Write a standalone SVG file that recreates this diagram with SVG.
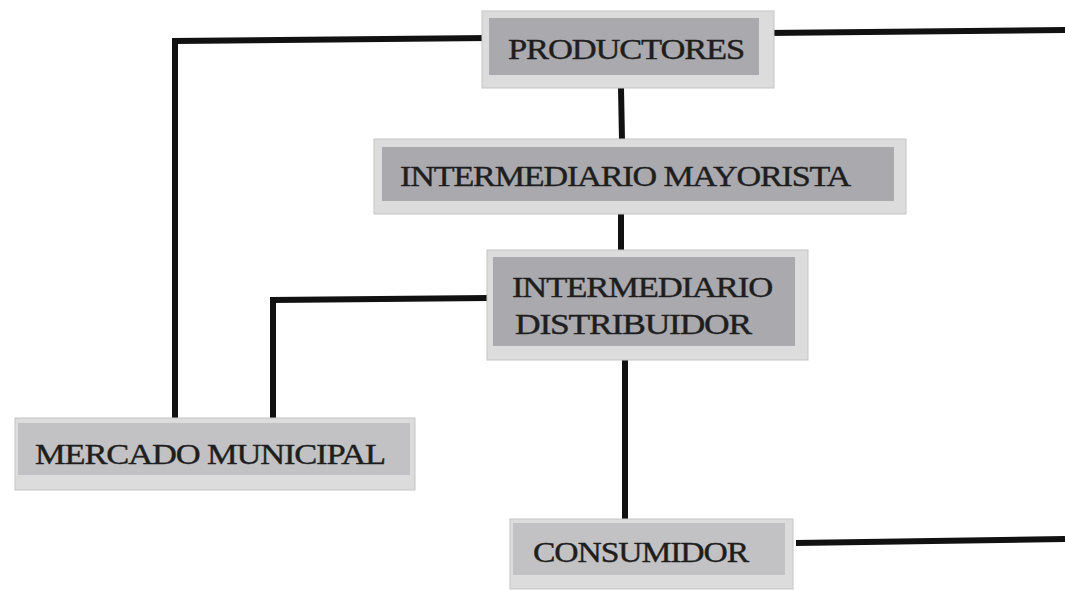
<svg xmlns="http://www.w3.org/2000/svg" width="1065" height="590" viewBox="0 0 1065 590">
<style>
.frame{fill:#dcdcdc;stroke:#c4c4c4;stroke-width:1}
.inner{fill:#aaa9ae}
.innerL{fill:#c2c2c4}
.lbl{font-family:"Liberation Serif","Times New Roman",serif;font-size:30px;fill:#1e1e1e;stroke:#1e1e1e;stroke-width:0.4;letter-spacing:-1px}
.conn{fill:none;stroke:#111;stroke-width:6;stroke-linejoin:miter}
</style>
<rect width="1065" height="590" fill="#ffffff"/>
<g id="connectors">
<polyline class="conn" points="489,38 175,41 175,421"/>
<line class="conn" x1="766" y1="33" x2="1065" y2="30"/>
<line class="conn" x1="796" y1="543" x2="1065" y2="539"/>
<line class="conn" x1="621" y1="88" x2="622" y2="140"/>
<line class="conn" x1="621" y1="213" x2="621" y2="252"/>
<polyline class="conn" points="489,298 273,300 273,421"/>
<line class="conn" x1="625" y1="360" x2="625" y2="520"/>
</g>
<g id="productores">
<rect class="frame" x="482" y="11" width="292" height="77"/>
<rect class="inner" x="489" y="18" width="270" height="57"/>
<text class="lbl" x="508" y="59" textLength="236" lengthAdjust="spacingAndGlyphs">PRODUCTORES</text>
</g>
<g id="mayorista">
<rect class="frame" x="374" y="139" width="532" height="75"/>
<rect class="inner" x="382" y="147" width="512" height="54"/>
<text class="lbl" x="400" y="186" textLength="450" lengthAdjust="spacingAndGlyphs">INTERMEDIARIO MAYORISTA</text>
</g>
<g id="distribuidor">
<rect class="frame" x="487" y="250" width="321" height="110"/>
<rect class="inner" x="493" y="257" width="302" height="89"/>
<text class="lbl" x="512" y="297" textLength="260" lengthAdjust="spacingAndGlyphs">INTERMEDIARIO</text>
<text class="lbl" x="515" y="334" textLength="236" lengthAdjust="spacingAndGlyphs">DISTRIBUIDOR</text>
</g>
<g id="mercado">
<rect class="frame" x="15" y="418" width="400" height="72"/>
<rect class="innerL" x="18" y="423" width="392" height="52"/>
<text class="lbl" x="35" y="464" textLength="350" lengthAdjust="spacingAndGlyphs">MERCADO MUNICIPAL</text>
</g>
<g id="consumidor">
<rect class="frame" x="510" y="519" width="283" height="70"/>
<rect class="innerL" x="513" y="523" width="272" height="52"/>
<text class="lbl" x="533" y="562" textLength="215" lengthAdjust="spacingAndGlyphs">CONSUMIDOR</text>
</g>
</svg>
